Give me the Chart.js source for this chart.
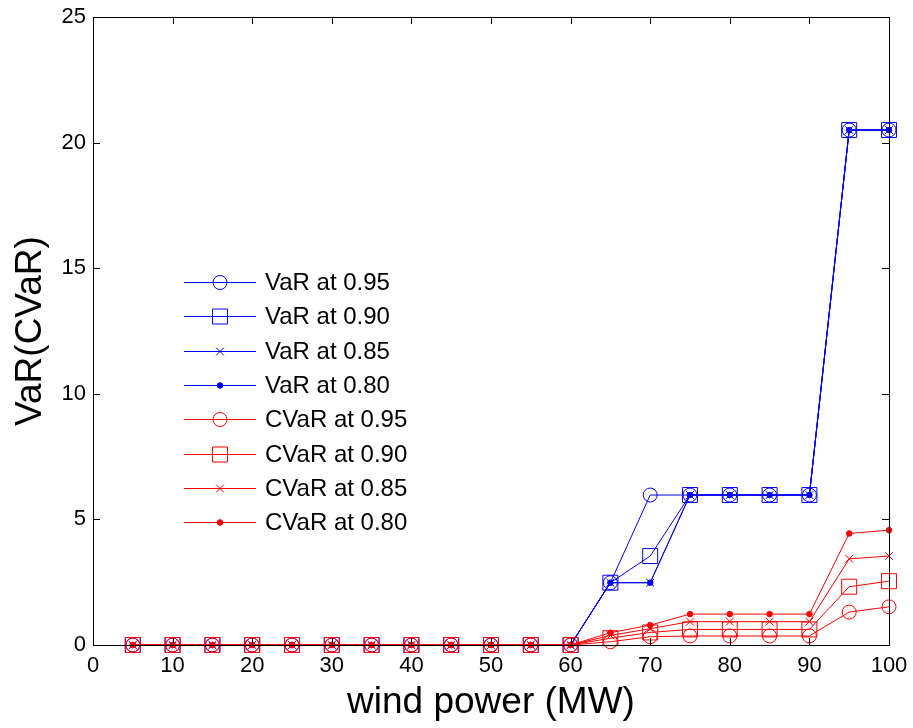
<!DOCTYPE html>
<html>
<head>
<meta charset="utf-8">
<script src="https://cdn.jsdelivr.net/npm/chart.js@4/dist/chart.umd.min.js"></script>
<style>
  html, body { margin: 0; padding: 0; background: #ffffff; }
  #wrap { width: 913px; height: 728px; }
</style>
</head>
<body>
<div id="wrap"><canvas id="chart" width="913" height="728"></canvas></div>
<script>
// Wind power levels (MW)
const windPower = [5, 10, 15, 20, 25, 30, 35, 40, 45, 50, 55, 60, 65, 70, 75, 80, 85, 90, 95, 100];

// Value at Risk for each confidence level
const varAt095 = [0, 0, 0, 0, 0, 0, 0, 0, 0, 0, 0, 0, 2.48, 5.97, 5.97, 5.97, 5.97, 5.97, 20.5, 20.5];
const varAt090 = [0, 0, 0, 0, 0, 0, 0, 0, 0, 0, 0, 0, 2.48, 3.54, 5.97, 5.97, 5.97, 5.97, 20.5, 20.5];
const varAt085 = [0, 0, 0, 0, 0, 0, 0, 0, 0, 0, 0, 0, 2.48, 2.48, 5.97, 5.97, 5.97, 5.97, 20.5, 20.5];
const varAt080 = [0, 0, 0, 0, 0, 0, 0, 0, 0, 0, 0, 0, 2.48, 2.48, 5.97, 5.97, 5.97, 5.97, 20.5, 20.5];

// Conditional Value at Risk for each confidence level
const cvarAt095 = [0, 0, 0, 0, 0, 0, 0, 0, 0, 0, 0, 0, 0.13, 0.33, 0.36, 0.36, 0.36, 0.36, 1.31, 1.52];
const cvarAt090 = [0, 0, 0, 0, 0, 0, 0, 0, 0, 0, 0, 0, 0.27, 0.50, 0.62, 0.62, 0.62, 0.62, 2.32, 2.54];
const cvarAt085 = [0, 0, 0, 0, 0, 0, 0, 0, 0, 0, 0, 0, 0.38, 0.65, 0.93, 0.93, 0.93, 0.93, 3.43, 3.54];
const cvarAt080 = [0, 0, 0, 0, 0, 0, 0, 0, 0, 0, 0, 0, 0.49, 0.79, 1.23, 1.23, 1.23, 1.23, 4.44, 4.57];

const seriesLabels = ['VaR at 0.95', 'VaR at 0.90', 'VaR at 0.85', 'VaR at 0.80',
                      'CVaR at 0.95', 'CVaR at 0.90', 'CVaR at 0.85', 'CVaR at 0.80'];
const seriesValues = [varAt095, varAt090, varAt085, varAt080,
                      cvarAt095, cvarAt090, cvarAt085, cvarAt080];

const xTickValues = [0, 10, 20, 30, 40, 50, 60, 70, 80, 90, 100];
const yTickValues = [0, 5, 10, 15, 20, 25];

const FONT = '"Liberation Sans", Arial, Helvetica, sans-serif';
const BLUE = '#0000ff';
const RED = '#ff0000';

// marker look per confidence level: hollow circle, hollow square, x, filled dot
const markerStyles = [
  { pointStyle: 'circle',   radius: 7,    fill: false },
  { pointStyle: 'rect',     radius: 10.6, fill: false },
  { pointStyle: 'crossRot', radius: 5.5,  fill: false },
  { pointStyle: 'circle',   radius: 2.8,  fill: true }
];

const datasets = seriesValues.map((vals, i) => {
  const color = i < 4 ? BLUE : RED;
  const m = markerStyles[i % 4];
  return {
    label: seriesLabels[i],
    data: vals.map((v, k) => ({ x: windPower[k], y: v })),
    borderColor: color,
    backgroundColor: m.fill ? color : 'rgba(0,0,0,0)',
    borderWidth: 1,
    pointStyle: m.pointStyle,
    pointRadius: m.radius,
    pointBorderWidth: 1,
    pointBorderColor: color,
    pointBackgroundColor: m.fill ? color : 'rgba(0,0,0,0)',
    tension: 0,
    fill: false,
    clip: false,
    // later series are painted over earlier ones
    order: seriesValues.length - i
  };
});

// Box around the plot area with inward tick marks on all four sides
const boxAndTicks = {
  id: 'boxAndTicks',
  afterDatasetsDraw(chart) {
    const { ctx, chartArea: a, scales } = chart;
    const len = 7;
    ctx.save();
    ctx.strokeStyle = '#000000';
    ctx.lineWidth = 1;
    ctx.beginPath();
    xTickValues.forEach(v => {
      const px = Math.round(scales.x.getPixelForValue(v)) + 0.5;
      ctx.moveTo(px, a.bottom); ctx.lineTo(px, a.bottom - len);
      ctx.moveTo(px, a.top);    ctx.lineTo(px, a.top + len);
    });
    yTickValues.forEach(v => {
      const py = Math.round(scales.y.getPixelForValue(v)) + 0.5;
      ctx.moveTo(a.left, py);  ctx.lineTo(a.left + len, py);
      ctx.moveTo(a.right, py); ctx.lineTo(a.right - len, py);
    });
    ctx.stroke();
    ctx.strokeRect(Math.round(a.left) + 0.5, Math.round(a.top) + 0.5,
                   Math.round(a.right - a.left), Math.round(a.bottom - a.top));
    ctx.restore();
  }
};

// Legend placed inside the plot, left of centre
const innerLegend = {
  id: 'innerLegend',
  afterDraw(chart) {
    const { ctx } = chart;
    const x0 = 184, x1 = 256, xm = 220, xt = 265;
    const y0 = 282, dy = 34.3;
    ctx.save();
    ctx.font = '24px ' + FONT;
    ctx.textBaseline = 'middle';
    ctx.textAlign = 'left';
    chart.data.datasets.forEach((ds, i) => {
      const y = Math.round(y0 + i * dy) + 0.5;
      ctx.strokeStyle = ds.borderColor;
      ctx.lineWidth = 1;
      ctx.beginPath();
      ctx.moveTo(x0, y); ctx.lineTo(x1, y);
      ctx.stroke();
      ctx.fillStyle = ds.pointBackgroundColor;
      ctx.strokeStyle = ds.pointBorderColor;
      Chart.helpers.drawPoint(ctx, {
        pointStyle: ds.pointStyle,
        radius: ds.pointRadius,
        rotation: 0,
        borderWidth: 1
      }, xm, y);
      ctx.fillStyle = '#000000';
      ctx.fillText(ds.label, xt, y + 1);
    });
    ctx.restore();
  }
};

new Chart(document.getElementById('chart'), {
  type: 'line',
  data: { datasets },
  plugins: [boxAndTicks, innerLegend],
  options: {
    responsive: false,
    animation: false,
    events: [],
    layout: { padding: { top: 17, right: 24, left: 0, bottom: 0 } },
    plugins: { legend: { display: false }, tooltip: { enabled: false } },
    scales: {
      x: {
        type: 'linear',
        min: 0, max: 100,
        afterFit(scale) { scale.height = 83; scale.paddingLeft = 0; scale.paddingRight = 0; },
        afterBuildTicks(scale) { scale.ticks = xTickValues.map(v => ({ value: v })); },
        grid: { display: false, drawTicks: false, tickLength: 0 },
        border: { display: false },
        ticks: { color: '#000000', font: { family: FONT, size: 22 }, padding: 8, maxRotation: 0, autoSkip: false },
        title: { display: true, text: 'wind power (MW)', color: '#000000',
                 font: { family: FONT, size: 37 }, padding: { top: 0, bottom: 3 } }
      },
      y: {
        type: 'linear',
        min: 0, max: 25,
        afterFit(scale) { scale.width = 93; scale.paddingTop = 0; scale.paddingBottom = 0; },
        afterBuildTicks(scale) { scale.ticks = yTickValues.map(v => ({ value: v })); },
        grid: { display: false, drawTicks: false, tickLength: 0 },
        border: { display: false },
        ticks: { color: '#000000', font: { family: FONT, size: 22 }, padding: 7, autoSkip: false },
        title: { display: true, text: 'VaR(CVaR)', color: '#000000',
                 font: { family: FONT, size: 37 }, padding: { top: 9, bottom: 0 } }
      }
    }
  }
});
</script>
</body>
</html>
